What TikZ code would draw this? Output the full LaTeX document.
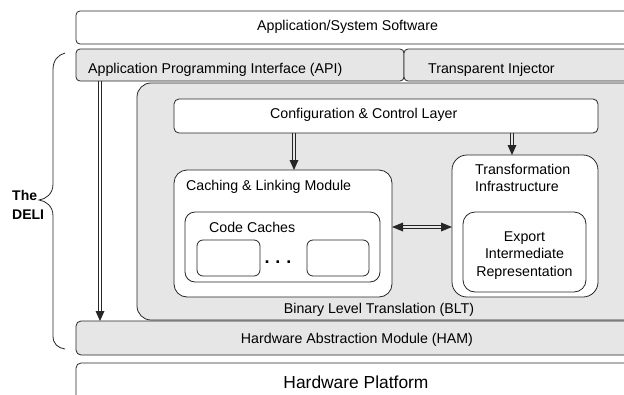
\documentclass[tikz,border=0pt]{standalone}
\usepackage{fontspec}
\setmainfont{Liberation Sans}
\usetikzlibrary{arrows.meta}
\definecolor{bltgray}{HTML}{E6E6E6}
\definecolor{linec}{HTML}{262626}
\tikzset{
  box/.style={draw=linec, line width=0.8pt, fill=white, anchor=north west, inner sep=0pt, outer sep=0pt},
  graybox/.style={box, fill=bltgray},
  lbl/.style={anchor=base west, inner sep=0pt, font=\fontsize{14.2}{17}\selectfont},
  clbl/.style={anchor=base, inner sep=0pt, font=\fontsize{14.2}{17}\selectfont},
  rail/.style={draw=linec, line width=0.7pt},
  headtri/.style={fill=linec, draw=none},
}
\newcommand{\bx}[7]{% style, name, x1, y1, x2, y2, radius
  \node[#1, rounded corners=#7, minimum width={(#5-#3)*1pt}, minimum height={(#6-#4)*1pt}] (#2) at (#3,#4) {};}
\begin{document}
\begin{tikzpicture}[x=1pt,y=-1pt]
\clip (0,0) rectangle (624,394);
\fill[white] (0,0) rectangle (624,394);
% boxes
\bx{box}{app}{76}{11}{650}{44}{4pt}
\bx{graybox}{api}{76}{49}{404}{81}{4pt}
\bx{graybox}{ti}{404}{49}{650}{81}{4pt}
\bx{graybox}{blt}{137}{83}{650}{320}{14pt}
\bx{box}{cfg}{174}{99}{598}{133}{5pt}
\bx{box}{cach}{174}{170}{392}{297}{13pt}
\bx{box}{cc}{185}{212}{380}{282}{10pt}
\bx{box}{sa}{197}{240}{260}{276}{6pt}
\bx{box}{sb}{307}{240}{369}{276}{6pt}
\bx{box}{tr}{452}{155}{598}{297}{15pt}
\bx{box}{exp}{463}{212}{586}{292}{12pt}
\bx{graybox}{ham}{76}{321}{650}{355}{5pt}
\bx{box}{hp}{76}{363}{650}{404}{5pt}
% texts
\node[lbl] (tapp) at (257,30.5) {Application/System Software};
\node[lbl] (tapi) at (88,73) {Application Programming Interface (API)};
\node[lbl] (tti) at (428,73) {Transparent Injector};
\node[lbl] (tcfg) at (270,118) {Configuration \& Control Layer};
\node[lbl] (tcach) at (186,190) {Caching \& Linking Module};
\node[lbl] (tcc) at (209,232) {Code Caches};
\node[lbl] (ttr1) at (475,174) {Transformation};
\node[lbl] (ttr2) at (475,191) {Infrastructure};
\node[clbl] (te1) at (524.5,241) {Export};
\node[clbl] (te2) at (524.5,258) {Intermediate};
\node[clbl] (te3) at (524.5,276) {Representation};
\node[clbl] (tblt) at (379,313) {Binary Level Translation (BLT)};
\node[clbl] (tham) at (357,343) {Hardware Abstraction Module (HAM)};
\node[anchor=base, inner sep=0pt, font=\fontsize{17.4}{20}\selectfont] (thp) at (356,388.5) {Hardware Platform};
\node[anchor=base, inner sep=0pt, font=\fontsize{18}{20}\selectfont\bfseries] (dots) at (278,263) {.\,\,.\,\,.};
\node[anchor=base west, inner sep=0pt, font=\fontsize{14}{17}\selectfont\bfseries] (tthe) at (12,200) {The};
\node[anchor=base west, inner sep=0pt, font=\fontsize{14}{17}\selectfont\bfseries] (tdeli) at (12,219) {DELI};
% brace
\draw[linec, line width=0.8pt] (65,53) .. controls (58,55) and (53,60) .. (53,70) -- (53,184)
  .. controls (53,194) and (46,199) .. (39,200) .. controls (46,201) and (53,206) .. (53,216)
  -- (53,336) .. controls (53,344) and (58,348) .. (65,349);
% arrows: two rails plus a filled head
\coordinate (xa) at (100,0);
\coordinate (xb) at (294,0);
\coordinate (xc) at (512,0);
\coordinate (yh) at (0,227);
% vertical API -> HAM
\coordinate (a1s) at (api.south -| xa);
\coordinate (a1e) at (ham.north -| xa);
\draw[rail] ([xshift=-1.2pt]a1s) -- ([xshift=-1.2pt,yshift=9pt]a1e);
\draw[rail] ([xshift=1.2pt]a1s) -- ([xshift=1.2pt,yshift=9pt]a1e);
\fill[headtri] (a1e) -- ([xshift=-4.5pt,yshift=10pt]a1e) -- ([xshift=4.5pt,yshift=10pt]a1e) -- cycle;
% vertical cfg -> caching
\coordinate (a2s) at (cfg.south -| xb);
\coordinate (a2e) at (cach.north -| xb);
\draw[rail] ([xshift=-1.2pt]a2s) -- ([xshift=-1.2pt,yshift=9pt]a2e);
\draw[rail] ([xshift=1.2pt]a2s) -- ([xshift=1.2pt,yshift=9pt]a2e);
\fill[headtri] (a2e) -- ([xshift=-4.5pt,yshift=10pt]a2e) -- ([xshift=4.5pt,yshift=10pt]a2e) -- cycle;
% vertical cfg -> transformation
\coordinate (a3s) at (cfg.south -| xc);
\coordinate (a3e) at (tr.north -| xc);
\draw[rail] ([xshift=-1.2pt]a3s) -- ([xshift=-1.2pt,yshift=9pt]a3e);
\draw[rail] ([xshift=1.2pt]a3s) -- ([xshift=1.2pt,yshift=9pt]a3e);
\fill[headtri] (a3e) -- ([xshift=-4.5pt,yshift=10pt]a3e) -- ([xshift=4.5pt,yshift=10pt]a3e) -- cycle;
% horizontal caching <-> transformation
\coordinate (a4s) at (cach.east |- yh);
\coordinate (a4e) at (tr.west |- yh);
\draw[rail] ([xshift=9pt,yshift=-1.2pt]a4s) -- ([xshift=-9pt,yshift=-1.2pt]a4e);
\draw[rail] ([xshift=9pt,yshift=1.2pt]a4s) -- ([xshift=-9pt,yshift=1.2pt]a4e);
\fill[headtri] (a4e) -- ([xshift=-11pt,yshift=-4.5pt]a4e) -- ([xshift=-11pt,yshift=4.5pt]a4e) -- cycle;
\fill[headtri] (a4s) -- ([xshift=11pt,yshift=-4.5pt]a4s) -- ([xshift=11pt,yshift=4.5pt]a4s) -- cycle;
\end{tikzpicture}
\end{document}
